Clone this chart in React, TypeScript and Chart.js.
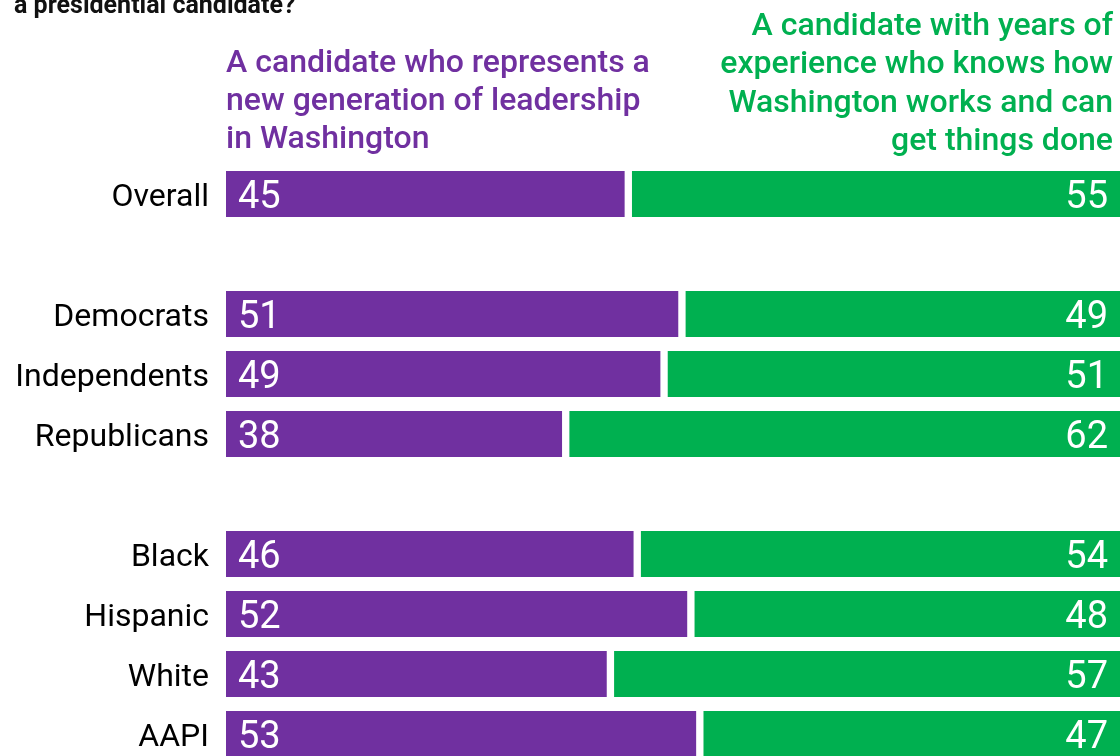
import React, { useEffect, useRef } from "react";
import { Chart, registerables } from "chart.js";

Chart.register(...registerables);

const categories: string[] = [
  "Overall",
  "",
  "Democrats",
  "Independents",
  "Republicans",
  "",
  "Black",
  "Hispanic",
  "White",
  "AAPI",
];

const newGeneration: (number | null)[] = [45, null, 51, 49, 38, null, 46, 52, 43, 53];
const experience: (number | null)[] = [55, null, 49, 51, 62, null, 54, 48, 57, 47];

const titleText = "a presidential candidate?";
const purpleHeader: string[] = [
  "A candidate who represents a",
  "new generation of leadership",
  "in Washington",
];
const greenHeader: string[] = [
  "A candidate with years of",
  "experience who knows how",
  "Washington works and can",
  "get things done",
];

const PURPLE = "#7030A0";
const GREEN = "#00B050";
const FONT = "Roboto, 'Noto Sans', sans-serif";

const overlayPlugin = {
  id: "overlay",
  afterDatasetsDraw(chart: any) {
    const ctx = chart.ctx as CanvasRenderingContext2D;
    const area = chart.chartArea;
    const yScale = chart.scales.y;
    ctx.save();
    // category labels
    ctx.font = `400 32px ${FONT}`;
    ctx.fillStyle = "#000000";
    ctx.textAlign = "right";
    ctx.textBaseline = "alphabetic";
    chart.data.labels.forEach((lab: string, i: number) => {
      if (!lab) return;
      const y = yScale.getPixelForValue(i);
      ctx.fillText(lab, area.left - 17, y + 12);
    });
    // value labels
    ctx.font = `400 38px ${FONT}`;
    ctx.fillStyle = "#ffffff";
    chart.data.datasets.forEach((ds: any, di: number) => {
      const meta = chart.getDatasetMeta(di);
      meta.data.forEach((el: any, i: number) => {
        const v = ds.data[i];
        if (v == null) return;
        const props = el.getProps(["x", "y", "base"], true);
        const left = Math.min(props.x, props.base);
        const right = Math.max(props.x, props.base);
        if (di === 0) {
          ctx.textAlign = "left";
          ctx.fillText(String(v), left + 12, props.y + 14);
        } else {
          ctx.textAlign = "right";
          ctx.fillText(String(v), right - 12, props.y + 14);
        }
      });
    });
    // title (cut off at top)
    ctx.fillStyle = "#111111";
    ctx.textAlign = "left";
    ctx.font = `700 25px ${FONT}`;
    ctx.fillText(titleText, 14, 13);
    // purple header
    ctx.font = `500 32px ${FONT}`;
    ctx.fillStyle = PURPLE;
    ctx.textAlign = "left";
    purpleHeader.forEach((line, i) => {
      ctx.fillText(line, area.left, 72 + i * 38);
    });
    // green header
    ctx.fillStyle = GREEN;
    ctx.textAlign = "right";
    greenHeader.forEach((line, i) => {
      ctx.fillText(line, area.right - 7, 35 + i * 38.3);
    });
    ctx.restore();
  },
};

export default function App() {
  const ref = useRef<HTMLCanvasElement>(null);
  useEffect(() => {
    if (!ref.current) return;
    const chart = new Chart(ref.current, {
      type: "bar",
      data: {
        labels: categories,
        datasets: [
          {
            label: "A candidate who represents a new generation of leadership in Washington",
            data: newGeneration,
            backgroundColor: PURPLE,
            borderColor: "#ffffff",
            borderWidth: { left: 0, right: 4, top: 0, bottom: 0 },
            borderSkipped: false,
            barThickness: 46,
          },
          {
            label: "A candidate with years of experience who knows how Washington works and can get things done",
            data: experience,
            backgroundColor: GREEN,
            borderColor: "#ffffff",
            borderWidth: { left: 4, right: 0, top: 0, bottom: 0 },
            borderSkipped: false,
            barThickness: 46,
          },
        ],
      },
      options: {
        indexAxis: "y",
        responsive: false,
        animation: false,
        devicePixelRatio: 1,
        layout: { padding: { top: 164, bottom: 0, left: 226, right: 0 } },
        plugins: {
          legend: { display: false },
          tooltip: { enabled: false },
        },
        scales: {
          x: {
            stacked: true,
            min: 0,
            max: 100,
            display: false,
          },
          y: {
            stacked: true,
            display: false,
          },
        },
      },
      plugins: [overlayPlugin],
    });
    return () => chart.destroy();
  }, []);
  return (
    <div
      style={{
        position: "fixed",
        left: 0,
        top: 0,
        width: 1120,
        height: 756,
        overflow: "hidden",
        background: "#ffffff",
      }}
    >
      <canvas ref={ref} width={1120} height={764} style={{ display: "block" }} />
    </div>
  );
}
